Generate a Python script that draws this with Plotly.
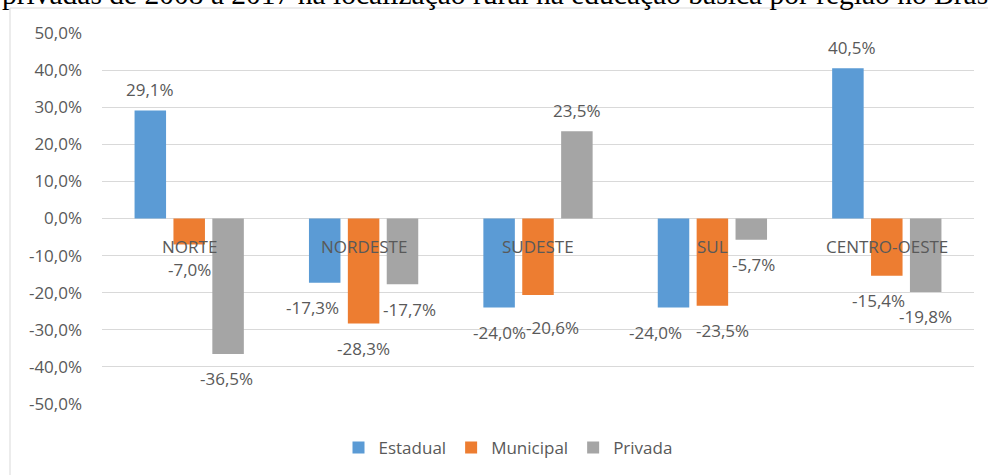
import plotly.graph_objects as go

# ---- data ----
categorias = ["NORTE", "NORDESTE", "SUDESTE", "SUL", "CENTRO-OESTE"]
estadual = [29.1, -17.3, -24.0, -24.0, 40.5]
municipal = [-7.0, -28.3, -20.6, -23.5, -15.4]
privada = [-36.5, -17.7, 23.5, -5.7, -19.8]
nomes_series = ["Estadual", "Municipal", "Privada"]
valores_series = [estadual, municipal, privada]
ticks_y = [-50, -40, -30, -20, -10, 0, 10, 20, 30, 40, 50]
titulo = "privadas de 2008 a 2017 na localização rural na educação básica por região no Brasil"

# ---- style ----
cores = ["#5B9BD5", "#ED7D31", "#A5A5A5"]
TXT = "#595959"
GRID = "#D9D9D9"
FONT = "Open Sans"
W, H = 988, 475
ML, MR, MT, MB = 102, 14, 33, 71
PW, PH = W - ML - MR, H - MT - MB
BAR_PITCH = 39  # px between bar centres within a group
# label nudges (Excel overlap avoidance), px
nudge_x = [
    [0, -12, 0, -18, 4],
    [0, 0, 14, 10, -8],
    [-2, 7, 0, 2, 0],
]
nudge_y = [
    [0, 0, 0, 0, 0],
    [0, 0, -8, 0, 0],
    [0, 0, 0, 0, 0],
]


def fmt(v):
    return f"{v:.1f}".replace(".", ",") + "%"


def px_x(p):
    return (p - ML) / PW


def px_y(p):
    return (H - MB - p) / PH


fig = go.Figure()
for nome, vals, cor in zip(nomes_series, valores_series, cores):
    fig.add_trace(go.Bar(x=categorias, y=vals, name=nome,
                         marker=dict(color=cor, line=dict(width=0))))

ann = []
for j, vals in enumerate(valores_series):
    for i, (cat, v) in enumerate(zip(categorias, vals)):
        ys = 21 if v >= 0 else -25
        ann.append(dict(x=cat, y=v, xref="x", yref="y", text=fmt(v), showarrow=False,
                        xshift=(j - 1) * BAR_PITCH + nudge_x[j][i], yshift=ys + nudge_y[j][i],
                        yanchor="middle", xanchor="center",
                        font=dict(family=FONT, size=17, color=TXT)))
for cat in categorias:
    ann.append(dict(x=cat, y=0, xref="x", yref="y", text=cat, showarrow=False,
                    yshift=-27.5, yanchor="middle", xanchor="center",
                    font=dict(family=FONT, size=17, color=TXT)))
# page title above the chart, partly outside the captured area (as in the reference)
ann.append(dict(x=px_x(0), y=px_y(12), xref="paper", yref="paper", text=titulo,
                showarrow=False, xanchor="left", yanchor="bottom",
                font=dict(family="Liberation Serif", size=29.5, color="#000000")))

fig.update_layout(
    width=W, height=H,
    margin=dict(l=ML, r=MR, t=MT, b=MB, autoexpand=False),
    paper_bgcolor="white", plot_bgcolor="white",
    barmode="group", bargap=0.331, bargroupgap=0.19,
    font=dict(family=FONT, size=17, color=TXT),
    showlegend=True,
    legend=dict(orientation="h", x=px_x(508), xanchor="center", y=px_y(448), yanchor="middle",
                font=dict(family=FONT, size=17, color=TXT), bgcolor="rgba(0,0,0,0)",
                itemwidth=30),
    annotations=ann,
    shapes=[dict(type="rect", xref="paper", yref="paper",
                 x0=px_x(10), x1=px_x(1100), y0=px_y(8), y1=px_y(600),
                 line=dict(color=GRID, width=1), layer="below")],
)
fig.update_xaxes(showticklabels=False, showgrid=False, zeroline=False, showline=False, ticks="",
                 automargin=False)
fig.update_yaxes(range=[-50, 50], tickvals=ticks_y, ticktext=[fmt(t) for t in ticks_y],
                 showgrid=True, gridcolor=GRID, gridwidth=1, zeroline=False, showline=False,
                 ticks="", ticklabelstandoff=19, automargin=False,
                 tickfont=dict(family=FONT, size=17, color=TXT))

fig.write_html("out.html", config={"displayModeBar": False},
               post_script="document.body.style.margin='0px';")
